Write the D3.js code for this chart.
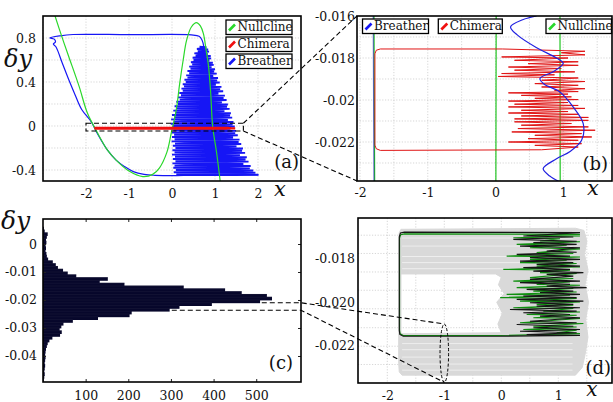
<!DOCTYPE html>
<html><head><meta charset="utf-8">
<script src="https://cdn.jsdelivr.net/npm/d3@7"></script>
<style>
body{margin:0;background:#fff}
svg{display:block}
svg text{font-family:"DejaVu Serif", "Liberation Serif", serif !important}
</style>
</head><body>
<svg id="c" width="613" height="402"></svg>
<script>
// ---------------- DATA ----------------
// Panel (a): nullcline, breather, chimera in (x, dy)
const nullcline = [[-2.72,1.0],[-2.56,0.81],[-2.40,0.63],[-2.16,0.36],[-1.97,0.12],[-1.75,-0.05],[-1.5,-0.22],[-1.30,-0.31],[-1.0,-0.41],[-0.68,-0.46],[-0.45,-0.44],[-0.29,-0.38],[-0.12,-0.24],[-0.02,-0.07],[0.1,0.15],[0.18,0.39],[0.26,0.6],[0.34,0.78],[0.45,0.9],[0.57,0.94],[0.66,0.91],[0.73,0.84],[0.79,0.7],[0.85,0.54],[0.9,0.3],[0.945,0.0],[1.04,-0.25],[1.12,-0.5]];
const breatherOuter = [[0.74,0.72],[0.70,0.78],[0.63,0.815],[0.45,0.828],[-1.0,0.83],[-2.3,0.832],[-2.6,0.82],[-2.84,0.80],[-2.74,0.79],[-2.71,0.765],[-2.76,0.745],[-2.70,0.72],[-2.55,0.57],[-2.40,0.42],[-2.25,0.28],[-2.1,0.15],[-1.88,0.04],[-1.72,-0.08],[-1.5,-0.22],[-1.3,-0.31],[-1.1,-0.37],[-0.9,-0.415],[-0.65,-0.44],[-0.4,-0.448],[0.5,-0.45],[1.5,-0.448],[2.02,-0.444]];
const breatherZig = [[0.64,0.72],[0.80,0.716],[0.58,0.70],[0.84,0.695],[0.60,0.68],[0.86,0.676],[0.52,0.66],[0.83,0.655],[0.55,0.64],[0.90,0.636],[0.48,0.62],[0.91,0.615],[0.50,0.60],[0.87,0.596],[0.44,0.58],[0.95,0.575],[0.47,0.56],[0.97,0.556],[0.40,0.54],[0.92,0.535],[0.43,0.52],[1.00,0.516],[0.36,0.50],[0.98,0.495],[0.40,0.48],[1.04,0.476],[0.33,0.46],[0.96,0.455],[0.36,0.44],[1.07,0.436],[0.29,0.42],[1.05,0.415],[0.32,0.40],[1.11,0.396],[0.25,0.38],[1.02,0.375],[0.28,0.36],[1.15,0.356],[0.22,0.34],[1.12,0.335],[0.25,0.32],[1.19,0.316],[0.17,0.30],[1.08,0.295],[0.21,0.28],[1.23,0.276],[0.14,0.26],[1.20,0.255],[0.18,0.24],[1.27,0.236],[0.10,0.22],[1.16,0.215],[0.14,0.20],[1.30,0.196],[0.06,0.18],[1.28,0.175],[0.10,0.16],[1.34,0.156],[0.03,0.14],[1.22,0.135],[0.08,0.12],[1.37,0.116],[0.00,0.10],[1.35,0.095],[0.05,0.08],[1.40,0.076],[-0.02,0.06],[1.30,0.055],[0.04,0.04],[1.43,0.036],[-0.03,0.02],[1.41,0.015],[0.02,0.00],[1.46,-0.004],[-0.04,-0.02],[1.36,-0.025],[0.03,-0.04],[1.49,-0.044],[-0.02,-0.06],[1.47,-0.065],[0.05,-0.08],[1.53,-0.084],[0.00,-0.10],[1.42,-0.105],[0.06,-0.12],[1.57,-0.124],[-0.01,-0.14],[1.55,-0.145],[0.07,-0.16],[1.61,-0.164],[0.02,-0.18],[1.50,-0.185],[0.08,-0.20],[1.65,-0.204],[0.01,-0.22],[1.63,-0.225],[0.06,-0.24],[1.70,-0.244],[0.00,-0.26],[1.58,-0.265],[0.07,-0.28],[1.74,-0.284],[0.02,-0.30],[1.71,-0.305],[0.08,-0.32],[1.78,-0.324],[0.01,-0.34],[1.66,-0.345],[0.06,-0.36],[1.83,-0.364],[0.03,-0.38],[1.81,-0.385],[0.09,-0.40],[1.89,-0.404],[0.04,-0.42],[1.94,-0.424],[0.10,-0.44],[2.00,-0.443]];
const chimera = [[-1.70,-0.01757],[0.10,-0.01757],[1.32,-0.01768],[0.97,-0.01775],[1.32,-0.01785],[0.09,-0.01795],[1.07,-0.01800],[0.28,-0.01811],[1.22,-0.01818],[0.48,-0.01827],[1.22,-0.01835],[0.19,-0.01843],[0.97,-0.01850],[0.28,-0.01858],[1.17,-0.01866],[0.09,-0.01874],[0.87,-0.01880],[0.04,-0.01888],[1.22,-0.01895],[0.68,-0.01906],[1.32,-0.01912],[0.58,-0.01922],[1.22,-0.01930],[0.68,-0.01938],[1.32,-0.01946],[0.87,-0.01954],[1.22,-0.01960],[0.19,-0.01966],[1.07,-0.01972],[0.38,-0.01978],[1.12,-0.01985],[0.58,-0.01992],[1.22,-0.01998],[0.19,-0.02005],[1.07,-0.02012],[0.28,-0.02020],[1.22,-0.02026],[0.19,-0.02033],[1.32,-0.02040],[0.38,-0.02049],[1.07,-0.02055],[0.19,-0.02062],[1.22,-0.02068],[0.38,-0.02076],[1.37,-0.02083],[0.28,-0.02090],[1.37,-0.02097],[0.28,-0.02104],[1.12,-0.02112],[0.38,-0.02120],[1.37,-0.02128],[0.33,-0.02136],[1.47,-0.02144],[0.24,-0.02152],[1.27,-0.02160],[0.58,-0.02168],[1.42,-0.02176],[0.48,-0.02184],[1.22,-0.02192],[0.19,-0.02200],[1.27,-0.02208],[0.58,-0.02216],[1.22,-0.02224],[0.68,-0.02237],[-1.70,-0.02240],[-1.76,-0.02232],[-1.78,-0.02215],[-1.78,-0.01780],[-1.76,-0.01763],[-1.70,-0.01757]];
// Panel (b): breather near dy = -0.02
const breatherWave = [[0.606,-0.0160],[0.40,-0.01618],[0.222,-0.01652],[0.32,-0.01690],[0.60,-0.01750],[0.90,-0.01800],[0.999,-0.01825],[0.85,-0.01865],[0.655,-0.01898],[0.72,-0.01925],[0.95,-0.01962],[1.15,-0.02035],[1.294,-0.02112],[1.27,-0.02192],[1.10,-0.02245],[0.90,-0.02280],[0.703,-0.02327],[0.80,-0.02362],[0.95,-0.02390]];
// Panel (c): histogram of dy (bin top edge, count)
const histTop = [0.006,0.005,0.004,0.003,0.002,0.001,0.000,-0.001,-0.002,-0.003,-0.004,-0.005,-0.006,-0.007,-0.008,-0.009,-0.010,-0.011,-0.012,-0.013,-0.014,-0.015,-0.016,-0.017,-0.018,-0.019,-0.020,-0.021,-0.022,-0.023,-0.024,-0.025,-0.026,-0.027,-0.028,-0.029,-0.030,-0.031,-0.032,-0.033,-0.034,-0.035,-0.036,-0.037,-0.038,-0.039,-0.040,-0.041,-0.042,-0.043,-0.044,-0.045,-0.046,-0.047,-0.048];
const histCount = [2,4,11,9,7,8,6,7,6,8,9,12,23,30,35,47,58,78,152,133,191,330,427,466,525,537,509,396,320,297,208,203,129,70,48,43,39,44,40,22,15,11,9,7,6,5,6,5,4,5,4,3,4,3,2];
const histBinWidth = 0.001;
const cSelection = [[513,-0.0210],[302,-0.02365]];  // (count, dy) where dashed guides start
// Panel (d): trajectories
const dBlack = [[-0.02,-0.02156],[-1.72,-0.02156],[-1.78,-0.02148],[-1.79,-0.02130],[-1.79,-0.01700],[-1.77,-0.01682],[-1.70,-0.01678],[1.38,-0.01680],[0.386,-0.01696],[1.263,-0.01700],[0.211,-0.01711],[1.322,-0.01720],[0.562,-0.01726],[1.322,-0.01734],[0.328,-0.01742],[1.38,-0.01750],[0.796,-0.01765],[1.322,-0.01770],[0.27,-0.0178],[1.205,-0.01788],[0.503,-0.01795],[1.38,-0.01803],[0.328,-0.01811],[1.263,-0.01818],[0.62,-0.01826],[1.38,-0.01834],[0.386,-0.01841],[1.205,-0.01849],[0.562,-0.01857],[1.44,-0.01864],[0.796,-0.01872],[1.263,-0.01880],[0.503,-0.01895],[1.38,-0.01903],[0.328,-0.0191],[1.205,-0.01918],[0.796,-0.01926],[1.497,-0.01933],[0.445,-0.01941],[1.263,-0.01949],[0.679,-0.01956],[1.38,-0.01964],[0.386,-0.01972],[1.322,-0.01979],[0.27,-0.01987],[1.44,-0.01995],[0.503,-0.02002],[1.263,-0.0201],[0.62,-0.02018],[1.38,-0.02025],[0.152,-0.02033],[1.322,-0.02041],[0.386,-0.02048],[1.205,-0.02056],[0.679,-0.02064],[1.38,-0.02071],[0.503,-0.02087],[1.322,-0.02094],[0.27,-0.02102],[1.263,-0.0211],[0.562,-0.02117],[1.38,-0.02125],[0.328,-0.02133],[1.322,-0.0214],[0.445,-0.02148],[1.38,-0.02152],[-0.02,-0.02156]];
const dGreen = [[-0.02,-0.02153],[-1.72,-0.02153],[-1.775,-0.02145],[-1.785,-0.02128],[-1.785,-0.01705],[-1.765,-0.01690],[-1.70,-0.01686],[1.38,-0.01688],[0.445,-0.01692],[1.38,-0.01696],[0.211,-0.01704],[1.03,-0.01708],[0.679,-0.01719],[1.38,-0.01722],[0.27,-0.01734],[1.147,-0.01738],[0.503,-0.0175],[1.38,-0.01755],[0.62,-0.01772],[1.263,-0.01776],[0.094,-0.01788],[1.38,-0.01792],[0.503,-0.01803],[1.147,-0.01807],[0.328,-0.01818],[1.322,-0.01822],[0.62,-0.01834],[1.38,-0.01838],[0.035,-0.01849],[1.205,-0.01853],[0.679,-0.01864],[1.322,-0.01868],[0.503,-0.01887],[1.263,-0.01891],[0.211,-0.01903],[1.205,-0.01907],[0.62,-0.01918],[1.38,-0.01922],[0.27,-0.01933],[1.263,-0.01937],[0.562,-0.01949],[1.322,-0.01953],[0.094,-0.01964],[1.205,-0.01968],[-0.02,-0.01979],[1.322,-0.01983],[0.328,-0.01995],[1.38,-0.01999],[0.62,-0.0201],[1.263,-0.02014],[0.211,-0.02025],[1.263,-0.02029],[0.737,-0.02041],[1.38,-0.02045],[0.445,-0.02056],[1.322,-0.0206],[0.562,-0.02071],[1.38,-0.02075],[0.328,-0.02094],[1.44,-0.02098],[0.562,-0.0211],[1.322,-0.02114],[0.386,-0.02125],[1.322,-0.02129],[0.971,-0.0214],[1.38,-0.02144],[-0.02,-0.02153]];
const dGrayOuter = [[-1.76,-0.01665],[1.30,-0.01660],[1.45,-0.01670],[1.50,-0.01720],[1.46,-0.01780],[1.52,-0.01850],[1.47,-0.01920],[1.53,-0.02000],[1.48,-0.02080],[1.52,-0.02160],[1.47,-0.02240],[1.42,-0.02300],[1.30,-0.02335],[-1.74,-0.02335],[-1.79,-0.02320],[-1.80,-0.02280],[-1.80,-0.01720],[-1.79,-0.01680]];
const dGrayHole = [[-1.76,-0.01870],[-0.10,-0.01870],[0.00,-0.01885],[-0.05,-0.01920],[0.05,-0.01960],[-0.08,-0.02000],[0.02,-0.02050],[-0.06,-0.02100],[0.00,-0.02140],[-1.76,-0.02145]];
const dGrayStreaks = [-0.01705,-0.01742,-0.01790,-0.01818,-0.01846,-0.02190,-0.02218,-0.02252,-0.02284,-0.02312];
const dEllipse = {cx:-1, cy:-0.02234, rx:0.075, ry:0.00134};

// Tick values / labels
const aXTicks=[-2,-1,0,1,2], aYTicks=[-0.4,0,0.4,0.8], aXGrid=[-3,-2,-1,0,1,2], aYGrid=[-0.4,-0.2,0,0.2,0.4,0.6,0.8];
const aZoomBox = [[-2.0,0.025],[1.66,-0.045]];
const bXTicks=[-2,-1,0,1], bYTicks=[-0.016,-0.018,-0.02,-0.022], bXGrid=[-2,-1.5,-1,-0.5,0,0.5,1,1.5], bYGrid=[-0.017,-0.018,-0.019,-0.02,-0.021,-0.022,-0.023];
const cXTicks=[100,200,300,400,500], cYTicks=[0,-0.01,-0.02,-0.03,-0.04];
const dXTicks=[-2,-1,0,1], dYTicks=[-0.018,-0.020,-0.022], dYLabels=["-0.018","-0.020","-0.022"];
const dXGrid=[-2,-1.5,-1,-0.5,0,0.5,1,1.5], dYGrid=[-0.01692,-0.01776,-0.01861,-0.01945,-0.0203,-0.02117,-0.02202,-0.02286];

// ---------------- LAYOUT ----------------
const A={l:43,r:301,t:16,b:181}, B={l:357,r:612,t:16,b:181}, C={l:43,r:301,t:219,b:382}, D={l:358,r:612,t:218,b:383};
const C_BLUE="#1616f5", C_RED="#f01010", C_GREEN="#2ad82a";

const svg=d3.select("#c");
const defs=svg.append("defs");
function clip(id,P){defs.append("clipPath").attr("id",id).append("rect").attr("x",P.l).attr("y",P.t).attr("width",P.r-P.l).attr("height",P.b-P.t);}
clip("ca",A);clip("cb",B);clip("cc",C);clip("cd",D);

const xa=d3.scaleLinear().domain([-3,3]).range([A.l,A.r]);
const ya=d3.scaleLinear().domain([-0.5,1.0]).range([A.b,A.t]);
const xb=d3.scaleLinear().domain([-2.0443,1.7186]).range([B.l,B.r]);
const yb=d3.scaleLinear().domain([-0.023857,-0.016]).range([B.b,B.t]);
const xc=d3.scaleLinear().domain([0,605]).range([C.l,C.r]);
const yc=d3.scaleLinear().domain([-0.04929,0.00893]).range([C.b,C.t]);
const xd=d3.scaleLinear().domain([-2.514,1.942]).range([D.l,D.r]);
const yd=d3.scaleLinear().domain([-0.02371,-0.01613]).range([D.b,D.t]);

function grid(P,xs,ys,xv,yv){
  const g=svg.append("g").attr("stroke","#c4c4c4").attr("stroke-width",0.7).attr("stroke-dasharray","1.2,1.6");
  xv.forEach(v=>g.append("line").attr("x1",xs(v)).attr("x2",xs(v)).attr("y1",P.t).attr("y2",P.b));
  yv.forEach(v=>g.append("line").attr("y1",ys(v)).attr("y2",ys(v)).attr("x1",P.l).attr("x2",P.r));
}
function styleAxis(g){g.attr("font-family",null).attr("font-size",12.5);g.select(".domain").remove();g.selectAll("text").attr("fill","#111");g.selectAll("line").attr("stroke","#222");}
function frame(P){svg.append("rect").attr("x",P.l).attr("y",P.t).attr("width",P.r-P.l).attr("height",P.b-P.t).attr("fill","none").attr("stroke","#000").attr("stroke-width",1.6);}
function legendBox(x,y,w,label,color){
  const g=svg.append("g");
  g.append("rect").attr("x",x).attr("y",y).attr("width",w).attr("height",14.5).attr("fill","#fff").attr("stroke","#000").attr("stroke-width",1.3);
  g.append("line").attr("x1",x+3).attr("y1",y+10.5).attr("x2",x+9).attr("y2",y+4.5).attr("stroke",color).attr("stroke-width",2.6);
  g.append("text").attr("x",x+11.5).attr("y",y+11.3).attr("font-size",12).attr("fill","#111").text(label);
}
const fmt=d=>String(d);

// ---------------- PANEL (a) ----------------
grid(A,xa,ya,aXGrid,aYGrid);
const ga=svg.append("g").attr("clip-path","url(#ca)");
const la=d3.line().x(d=>xa(d[0])).y(d=>ya(d[1]));
const laS=d3.line().x(d=>xa(d[0])).y(d=>ya(d[1])).curve(d3.curveCatmullRom);
ga.append("path").attr("d",la(breatherZig)).attr("fill","none").attr("stroke",C_BLUE).attr("stroke-width",1.9);
ga.append("path").attr("d",laS(breatherOuter)).attr("fill","none").attr("stroke",C_BLUE).attr("stroke-width",1.2);
ga.append("path").attr("d",laS(nullcline)).attr("fill","none").attr("stroke",C_GREEN).attr("stroke-width",1.2);
ga.append("path").attr("d",la(chimera)).attr("fill","none").attr("stroke",C_RED).attr("stroke-width",2.4);
svg.append("rect").attr("x",xa(aZoomBox[0][0])).attr("y",ya(aZoomBox[0][1]))
  .attr("width",xa(aZoomBox[1][0])-xa(aZoomBox[0][0])).attr("height",ya(aZoomBox[1][1])-ya(aZoomBox[0][1]))
  .attr("fill","none").attr("stroke","#000").attr("stroke-width",1.1).attr("stroke-dasharray","5,3");
svg.append("g").attr("transform",`translate(0,${A.b})`).call(d3.axisBottom(xa).tickValues(aXTicks).tickFormat(fmt).tickSize(0).tickPadding(8)).call(styleAxis);
svg.append("g").attr("transform",`translate(${A.l},0)`).call(d3.axisLeft(ya).tickValues(aYTicks).tickFormat(fmt).tickSize(0).tickPadding(7)).call(styleAxis);
frame(A);
legendBox(226,20,66,"Nullcline",C_GREEN);
legendBox(226,37,66,"Chimera",C_RED);
legendBox(226,54,66,"Breather",C_BLUE);

// ---------------- PANEL (b) ----------------
grid(B,xb,yb,bXGrid,bYGrid);
const gb=svg.append("g").attr("clip-path","url(#cb)");
const lb=d3.line().x(d=>xb(d[0])).y(d=>yb(d[1]));
const lbS=d3.line().x(d=>xb(d[0])).y(d=>yb(d[1])).curve(d3.curveCatmullRom);
gb.append("path").attr("d",lb(nullcline)).attr("fill","none").attr("stroke","#22c422").attr("stroke-width",1.2);
gb.append("path").attr("d",lb(chimera)).attr("fill","none").attr("stroke","#e01515").attr("stroke-width",1.0);
gb.append("path").attr("d",lb(breatherOuter)).attr("fill","none").attr("stroke","#1010b0").attr("stroke-width",1.1).attr("stroke-opacity",0.6);
gb.append("path").attr("d",lbS(breatherWave)).attr("fill","none").attr("stroke","#2020e0").attr("stroke-width",1.2);
svg.append("g").attr("transform",`translate(0,${B.b})`).call(d3.axisBottom(xb).tickValues(bXTicks).tickFormat(fmt).tickSize(0).tickPadding(7)).call(styleAxis);
svg.append("g").attr("transform",`translate(${B.l},0)`).call(d3.axisLeft(yb).tickValues(bYTicks).tickFormat(fmt).tickSize(0).tickPadding(2)).call(styleAxis);
frame(B);
legendBox(362.5,19,66,"Breather",C_BLUE);
legendBox(438.3,19,64,"Chimera",C_RED);
legendBox(546,19,65.5,"Nullcline",C_GREEN);

// connectors (a) -> (b)
const dash=svg.append("g").attr("stroke","#000").attr("stroke-width",1.1).attr("stroke-dasharray","5,3").attr("fill","none");
dash.append("line").attr("x1",xa(aZoomBox[1][0])).attr("y1",ya(aZoomBox[0][1])).attr("x2",B.l).attr("y2",yb(-0.016));
dash.append("line").attr("x1",xa(aZoomBox[1][0])).attr("y1",ya(aZoomBox[1][1])).attr("x2",B.l).attr("y2",B.b);

// ---------------- PANEL (c) ----------------
const gc=svg.append("g").attr("clip-path","url(#cc)");
gc.selectAll("rect.bar").data(histCount).join("rect").attr("class","bar")
  .attr("x",xc(0)).attr("y",(d,i)=>yc(histTop[i])-0.4)
  .attr("width",d=>xc(d)-xc(0)).attr("height",(d,i)=>yc(histTop[i]-histBinWidth)-yc(histTop[i])+0.8)
  .attr("fill","#07072b");
gc.selectAll("line.sep").data(histCount).join("line").attr("class","sep")
  .attr("x1",xc(0)).attr("x2",d=>xc(d)).attr("y1",(d,i)=>yc(histTop[i])).attr("y2",(d,i)=>yc(histTop[i]))
  .attr("stroke","#2e2e4c").attr("stroke-width",0.3);
svg.append("g").attr("transform",`translate(0,${C.b})`).call(d3.axisBottom(xc).tickValues(cXTicks).tickFormat(fmt).tickSize(-3).tickPadding(9)).call(styleAxis);
svg.append("g").attr("transform",`translate(0,${C.t})`).call(d3.axisTop(xc).tickValues(cXTicks).tickFormat("").tickSize(-3)).call(styleAxis);
svg.append("g").attr("transform",`translate(${C.l},0)`).call(d3.axisLeft(yc).tickValues(cYTicks).tickFormat(fmt).tickSize(-3).tickPadding(6)).call(styleAxis);
svg.append("g").attr("transform",`translate(${C.r},0)`).call(d3.axisRight(yc).tickValues(cYTicks).tickFormat("").tickSize(-3)).call(styleAxis);
frame(C);

// ---------------- PANEL (d) ----------------
grid(D,xd,yd,dXGrid,dYGrid);
const gd=svg.append("g").attr("clip-path","url(#cd)");
const ld=d3.line().x(d=>xd(d[0])).y(d=>yd(d[1]));
gd.append("path").attr("d",ld(dGrayOuter)+"Z"+ld(dGrayHole)+"Z").attr("fill","#d9d9d9").attr("fill-rule","evenodd").attr("stroke","#d9d9d9").attr("stroke-width",1);
gd.selectAll("line.st").data(dGrayStreaks).join("line").attr("class","st")
  .attr("x1",xd(-1.74)).attr("x2",xd(1.25)).attr("y1",d=>yd(d)).attr("y2",d=>yd(d))
  .attr("stroke","#f4f4f4").attr("stroke-width",0.8);
gd.append("path").attr("d",ld(dGreen)).attr("fill","none").attr("stroke","#0f8f0f").attr("stroke-width",1.1);
gd.append("path").attr("d",ld(dBlack)).attr("fill","none").attr("stroke","#151515").attr("stroke-width",1.1);
svg.append("ellipse").attr("cx",xd(dEllipse.cx)).attr("cy",yd(dEllipse.cy))
  .attr("rx",xd(dEllipse.cx+dEllipse.rx)-xd(dEllipse.cx)).attr("ry",yd(dEllipse.cy-dEllipse.ry)-yd(dEllipse.cy))
  .attr("fill","none").attr("stroke","#000").attr("stroke-width",1).attr("stroke-dasharray","3,2");
svg.append("g").attr("transform",`translate(0,${D.b})`).call(d3.axisBottom(xd).tickValues(dXTicks).tickFormat(fmt).tickSize(0).tickPadding(8)).call(styleAxis);
svg.append("g").attr("transform",`translate(${D.l},0)`).call(d3.axisLeft(yd).tickValues(dYTicks).tickFormat((d,i)=>dYLabels[i]).tickSize(0).tickPadding(3)).call(styleAxis);
frame(D);

// connectors (c) -> (d)
const dash2=svg.append("g").attr("stroke","#000").attr("stroke-width",1.1).attr("stroke-dasharray","5,3").attr("fill","none");
const ends=[yd(dEllipse.cy+dEllipse.ry),yd(dEllipse.cy-dEllipse.ry)];
cSelection.forEach((s,i)=>{
  dash2.append("polyline").attr("points",[[xc(s[0]),yc(s[1])],[C.r,yc(s[1])],[xd(dEllipse.cx),ends[i]]].map(p=>p.join(",")).join(" "));
});

// ---------------- LABELS ----------------
function lbl(x,y,t,size,anchor,italic){svg.append("text").attr("x",x).attr("y",y).attr("text-anchor",anchor||"start").attr("font-size",size).attr("font-style",italic?"italic":"normal").attr("fill","#111").text(t);}
lbl(4,67,"δy",24,"start",true);
lbl(1,229,"δy",25,"start",true);
lbl(280,196,"x",21,"middle",true);
lbl(593,195,"x",21,"middle",true);
lbl(592,396,"x",20,"middle",true);
lbl(299,168,"(a)",18,"end");
lbl(608,170,"(b)",18,"end");
lbl(293,369,"(c)",18,"end");
lbl(611,374,"(d)",18,"end");
</script>
</body></html>
